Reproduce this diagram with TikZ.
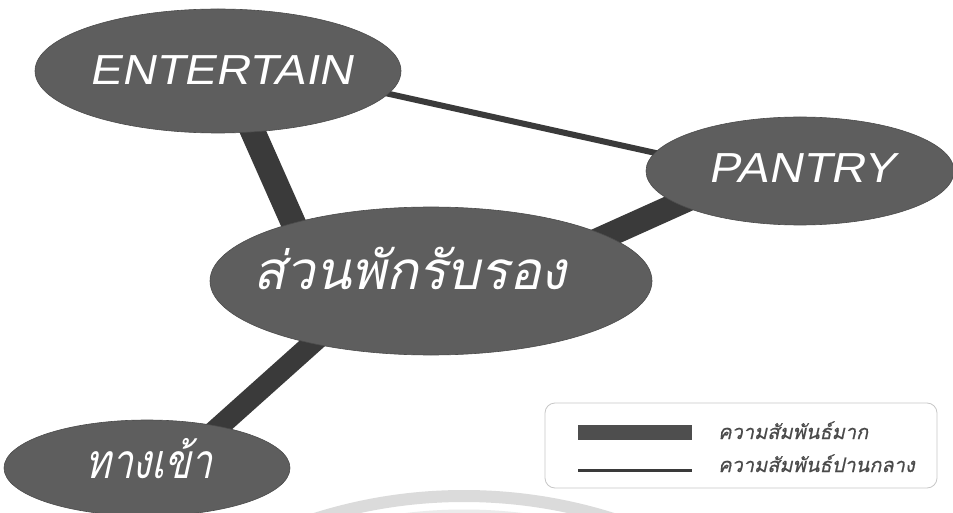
\documentclass[tikz,border=0pt]{standalone}
\usepackage{fontspec}
\setmainfont{Liberation Sans}
\newfontfamily\thaifont[Script=Thai,FakeSlant=0.22]{Loma}
\newfontfamily\thaicond[Script=Thai,FakeSlant=0.22,FakeStretch=0.8]{Loma}
\newfontfamily\thaibold[Script=Thai,FakeSlant=0.22,FakeBold=0.6]{Loma}
\newfontfamily\latfont[FakeSlant=0.2,FakeStretch=1.12]{Liberation Sans}
\usetikzlibrary{shapes.geometric,calc,backgrounds}
\definecolor{blobfill}{HTML}{5E5E5E}
\definecolor{barcol}{HTML}{3A3A3A}
\definecolor{legtext}{HTML}{4A4A4A}
\begin{document}
\begin{tikzpicture}[x=1pt,y=-1pt,
  blob/.style={ellipse,fill=blobfill,draw=blobfill!80!black,line width=0.6pt,inner sep=0pt},
  lbl/.style={text=white,inner sep=0pt},
  strong/.style={draw=barcol,line width=#1},
  medium/.style={draw=barcol,line width=6pt},
  legtxt/.style={text=legtext,anchor=base west,inner sep=0pt,font=\thaibold\fontsize{20}{24}\selectfont}]
\useasboundingbox (0,0) rectangle (953,513);
% nodes
\node[blob,minimum width=366,minimum height=124] (ent) at (218,71) {};
\node[lbl,font=\latfont\fontsize{42}{44}\selectfont] (entt) at (221,70) {ENTERTAIN};
\node[blob,minimum width=308,minimum height=108] (pan) at (800,171) {};
\node[lbl,font=\latfont\fontsize{42}{44}\selectfont] (pant) at (802,168) {PANTRY};
\node[blob,minimum width=442,minimum height=148] (cen) at (431,281) {};
\node[lbl,font=\thaifont\fontsize{53}{56}\selectfont] (cent) at (410,268) {ส่วนพักรับรอง};
\node[blob,minimum width=286,minimum height=96] (ent2) at (147,468) {};
\node[lbl,font=\thaicond\fontsize{48}{52}\selectfont] (ent2t) at (149,459) {ทางเข้า};
% background, watermark and connectors
\begin{pgfonlayer}{background}
\fill[white] (0,0) rectangle (953,513);
\begin{scope}
\clip (0,0) rectangle (953,513);
\draw[line width=12pt,draw=black!14] (464,990) circle[radius=494];
\draw[line width=5pt,draw=black!8] (464,990) circle[radius=478];
\end{scope}
\draw[strong=25pt] ($(ent.center)+(8,0)$) -- ($(cen.center)+(-112,0)$);
\draw[medium] ($(ent.center)+(0,-15)$) -- ($(pan.center)+(0,14)$);
\draw[strong=24pt] ($(cen.center)+(120,-20)$) -- ($(pan.center)+(-40,-4)$);
\draw[strong=21pt] ($(cen.center)+(-49,0)$) -- ($(ent2.center)+(26,0)$);
\end{pgfonlayer}
% legend
\node[draw=black!22,line width=0.8pt,rounded corners=10pt,minimum width=392,minimum height=85,inner sep=0pt] (leg) at (741,445.5) {};
\node[fill=barcol!90!white,minimum width=114,minimum height=15,inner sep=0pt] (legbar) at (635,432.5) {};
\coordinate (legl) at (578,470);
\coordinate (legr) at (692,470);
\draw[draw=barcol,line width=3pt] (legl) -- (legr);
\node[legtxt] (leg1) at (718,439) {ความสัมพันธ์มาก};
\node[legtxt] (leg2) at (718,472) {ความสัมพันธ์ปานกลาง};
\end{tikzpicture}
\end{document}
